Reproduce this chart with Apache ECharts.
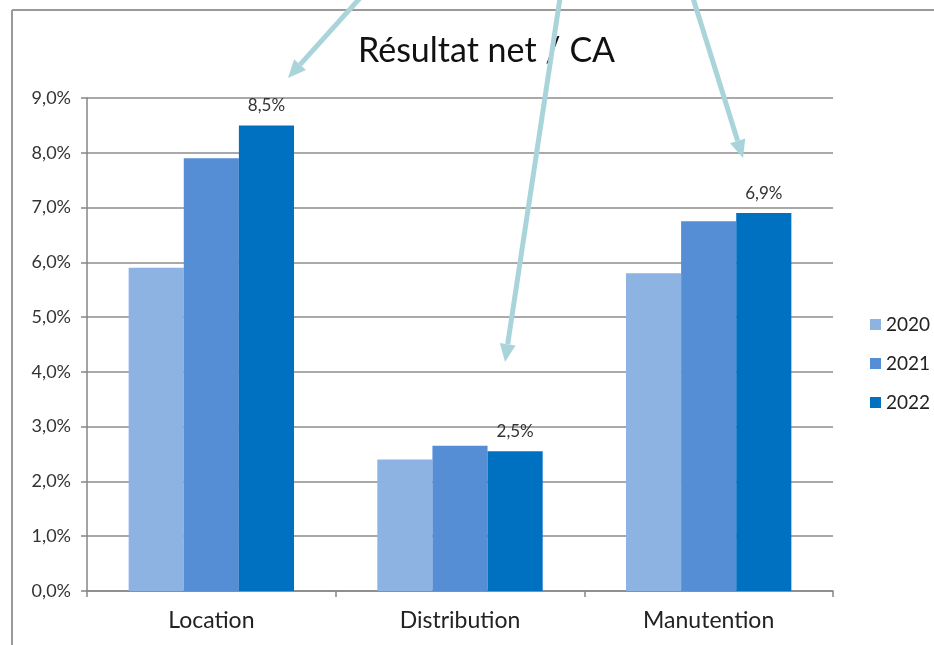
<!DOCTYPE html>
<html>
<head>
<meta charset="utf-8">
<script src="https://cdn.jsdelivr.net/npm/echarts@6/dist/echarts.min.js"></script>
<style>
html,body{margin:0;padding:0;background:#fff;}
#c{width:934px;height:645px;}
</style>
</head>
<body>
<div id="c"></div>
<script>
var categories = ['Location', 'Distribution', 'Manutention'];
var years = ['2020', '2021', '2022'];
var values2020 = [5.9, 2.4, 5.8];
var values2021 = [7.9, 2.65, 6.75];
var values2022 = [8.5, 2.55, 6.9];
var labels2022 = ['8,5%', '2,5%', '6,9%'];
var colors = ['#8db3e2', '#558ed5', '#0070c0'];
// annotation arrows (start -> tip), in pixels
var arrows = [
  [[360, -2], [288, 78]],
  [[560, -2], [505, 362]],
  [[693, -2], [743, 158]]
];

var fmt = function (v) { return v.toFixed(1).replace('.', ',') + '%'; };

function arrowGraphic(a) {
  var s = a[0], t = a[1];
  var dx = t[0] - s[0], dy = t[1] - s[1];
  var L = Math.sqrt(dx * dx + dy * dy);
  var ux = dx / L, uy = dy / L;
  var hl = 18, hw = 8;
  var bx = t[0] - ux * hl, by = t[1] - uy * hl;
  var px = -uy, py = ux;
  return [
    { type: 'line', z: 100, shape: { x1: s[0], y1: s[1], x2: bx, y2: by },
      style: { stroke: '#a9d5da', lineWidth: 5 } },
    { type: 'polygon', z: 100, shape: { points: [[t[0], t[1]], [bx + px * hw, by + py * hw], [bx - px * hw, by - py * hw]] },
      style: { fill: '#a9d5da' } }
  ];
}

var graphics = [
  { type: 'line', z: -1, shape: { x1: 12, y1: 10, x2: 934, y2: 10 }, style: { stroke: '#9a9a9a', lineWidth: 2 } },
  { type: 'line', z: -1, shape: { x1: 12, y1: 10, x2: 12, y2: 645 }, style: { stroke: '#9a9a9a', lineWidth: 2 } }
];
arrows.forEach(function (a) { graphics = graphics.concat(arrowGraphic(a)); });

var chart = echarts.init(document.getElementById('c'));
var seriesVals = [values2020, values2021, values2022];
chart.setOption({
  backgroundColor: '#ffffff',
  animation: false,
  title: {
    text: 'Résultat net / CA',
    left: 353,
    top: 29,
    textStyle: { fontFamily: 'Lato', fontSize: 34, fontWeight: 'normal', color: '#111' }
  },
  legend: {
    orient: 'vertical',
    left: 865,
    top: 310,
    itemWidth: 11,
    itemHeight: 11,
    itemGap: 20,
    icon: 'rect',
    textStyle: { fontFamily: 'Lato', fontSize: 19, color: '#222' },
    data: years
  },
  grid: { left: 87, right: 101, top: 98, bottom: 54 },
  xAxis: {
    type: 'category',
    data: categories,
    axisLine: { lineStyle: { color: '#868686', width: 1.5 } },
    axisTick: { show: true, length: 6, lineStyle: { color: '#868686', width: 1.5 } },
    axisLabel: { fontFamily: 'Lato', fontSize: 23, color: '#222', margin: 18 }
  },
  yAxis: {
    type: 'value',
    min: 0, max: 9, interval: 1,
    axisLine: { show: true, lineStyle: { color: '#868686', width: 1.5 } },
    axisTick: { show: true, length: 6, lineStyle: { color: '#868686', width: 1.5 } },
    splitLine: { lineStyle: { color: '#8c8c8c', width: 1.5 } },
    axisLabel: { fontFamily: 'Lato', fontSize: 18, color: '#333', margin: 16, formatter: fmt }
  },
  series: years.map(function (y, i) {
    return {
      name: y,
      type: 'bar',
      data: seriesVals[i],
      barGap: '0%',
      barCategoryGap: '33.5%',
      itemStyle: { color: colors[i] },
      label: i === 2 ? {
        show: true, position: 'top', distance: 11,
        fontFamily: 'Lato', fontSize: 17, color: '#333',
        formatter: function (p) { return labels2022[p.dataIndex]; }
      } : { show: false }
    };
  }),
  graphic: graphics
});
</script>
</body>
</html>
